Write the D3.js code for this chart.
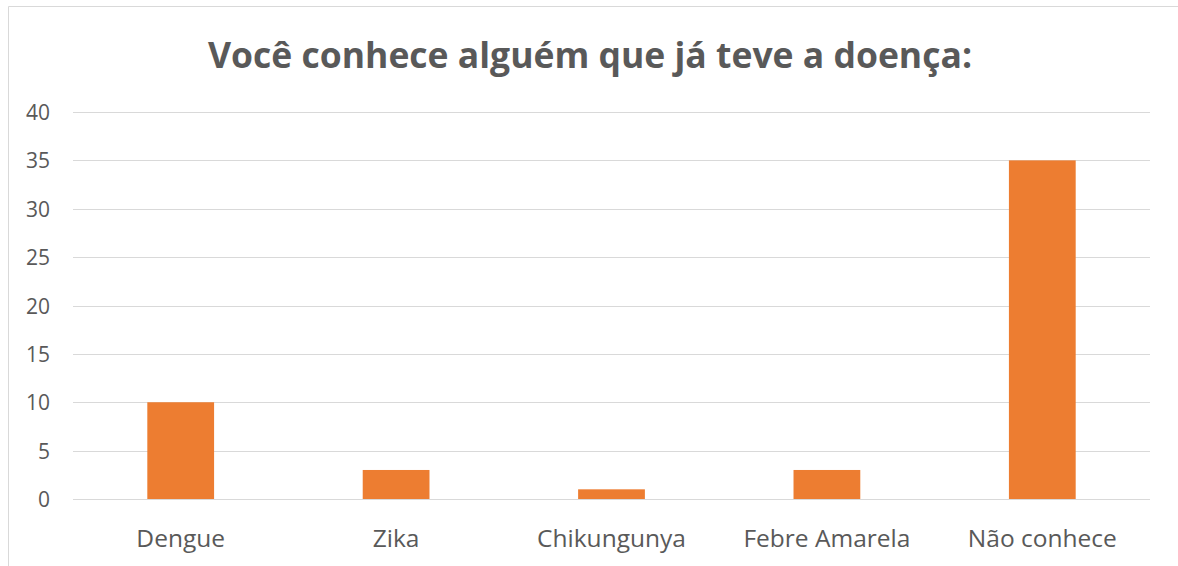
<!DOCTYPE html>
<meta charset="utf-8">
<style>
body { margin: 0; background: #fff; }
svg { display: block; font-family: "Open Sans", sans-serif; }
.grid line { stroke: #d9d9d9; stroke-width: 1; }
.tick text { fill: #595959; font-family: "Open Sans", sans-serif; }
</style>
<svg width="1178" height="566"></svg>
<script src="https://cdnjs.cloudflare.com/ajax/libs/d3/7.8.5/d3.min.js"></script>
<script>

var categories = ["Dengue", "Zika", "Chikungunya", "Febre Amarela", "Não conhece"];
var values = [10, 3, 1, 3, 35];
var yTicks = [0, 5, 10, 15, 20, 25, 30, 35, 40];
var title = "Você conhece alguém que já teve a doença:";

var svg = d3.select("svg");
var width = 1178, height = 566;
var margin = {left: 73, right: 28, top: 112, bottom: 67};

// chart frame (only top & left edges visible in the crop)
svg.append("line").attr("x1", 8.5).attr("x2", width).attr("y1", 6.5).attr("y2", 6.5)
    .attr("stroke", "#d9d9d9");
svg.append("line").attr("x1", 8.5).attr("x2", 8.5).attr("y1", 6.5).attr("y2", height)
    .attr("stroke", "#d9d9d9");

var x = d3.scaleBand()
    .domain(categories)
    .range([margin.left, width - margin.right])
    .paddingInner(0.69)
    .paddingOuter(0.345);

var y = d3.scaleLinear()
    .domain([0, 40])
    .range([height - margin.bottom, margin.top]);

var grid = svg.append("g").attr("class", "grid");
grid.selectAll("line")
  .data(yTicks)
  .enter().append("line")
    .attr("x1", margin.left)
    .attr("x2", width - margin.right)
    .attr("y1", function(d) { return Math.round(y(d)) + 0.5; })
    .attr("y2", function(d) { return Math.round(y(d)) + 0.5; });

var yAxis = svg.append("g")
    .attr("transform", "translate(50,0)")
    .call(d3.axisLeft(y).tickValues(yTicks).tickSize(0).tickPadding(0));
yAxis.select(".domain").remove();
yAxis.selectAll("text").style("font-size", "21px").attr("dy", "0.36em");

var xAxis = svg.append("g")
    .attr("transform", "translate(0," + (height - margin.bottom) + ")")
    .call(d3.axisBottom(x).tickSize(0));
xAxis.select(".domain").remove();
xAxis.selectAll("text").style("font-size", "24.5px").attr("y", 48).attr("dy", 0);

svg.append("g")
  .selectAll("rect")
  .data(values)
  .enter().append("rect")
    .attr("x", function(d, i) { return x(categories[i]); })
    .attr("width", x.bandwidth())
    .attr("y", function(d) { return y(d); })
    .attr("height", function(d) { return y(0) - y(d); })
    .attr("fill", "#ed7d31");

svg.append("text")
    .attr("x", 590)
    .attr("y", 68)
    .attr("text-anchor", "middle")
    .style("font-size", "35.5px")
    .style("font-weight", "bold")
    .style("fill", "#595959")
    .text(title);

</script>
